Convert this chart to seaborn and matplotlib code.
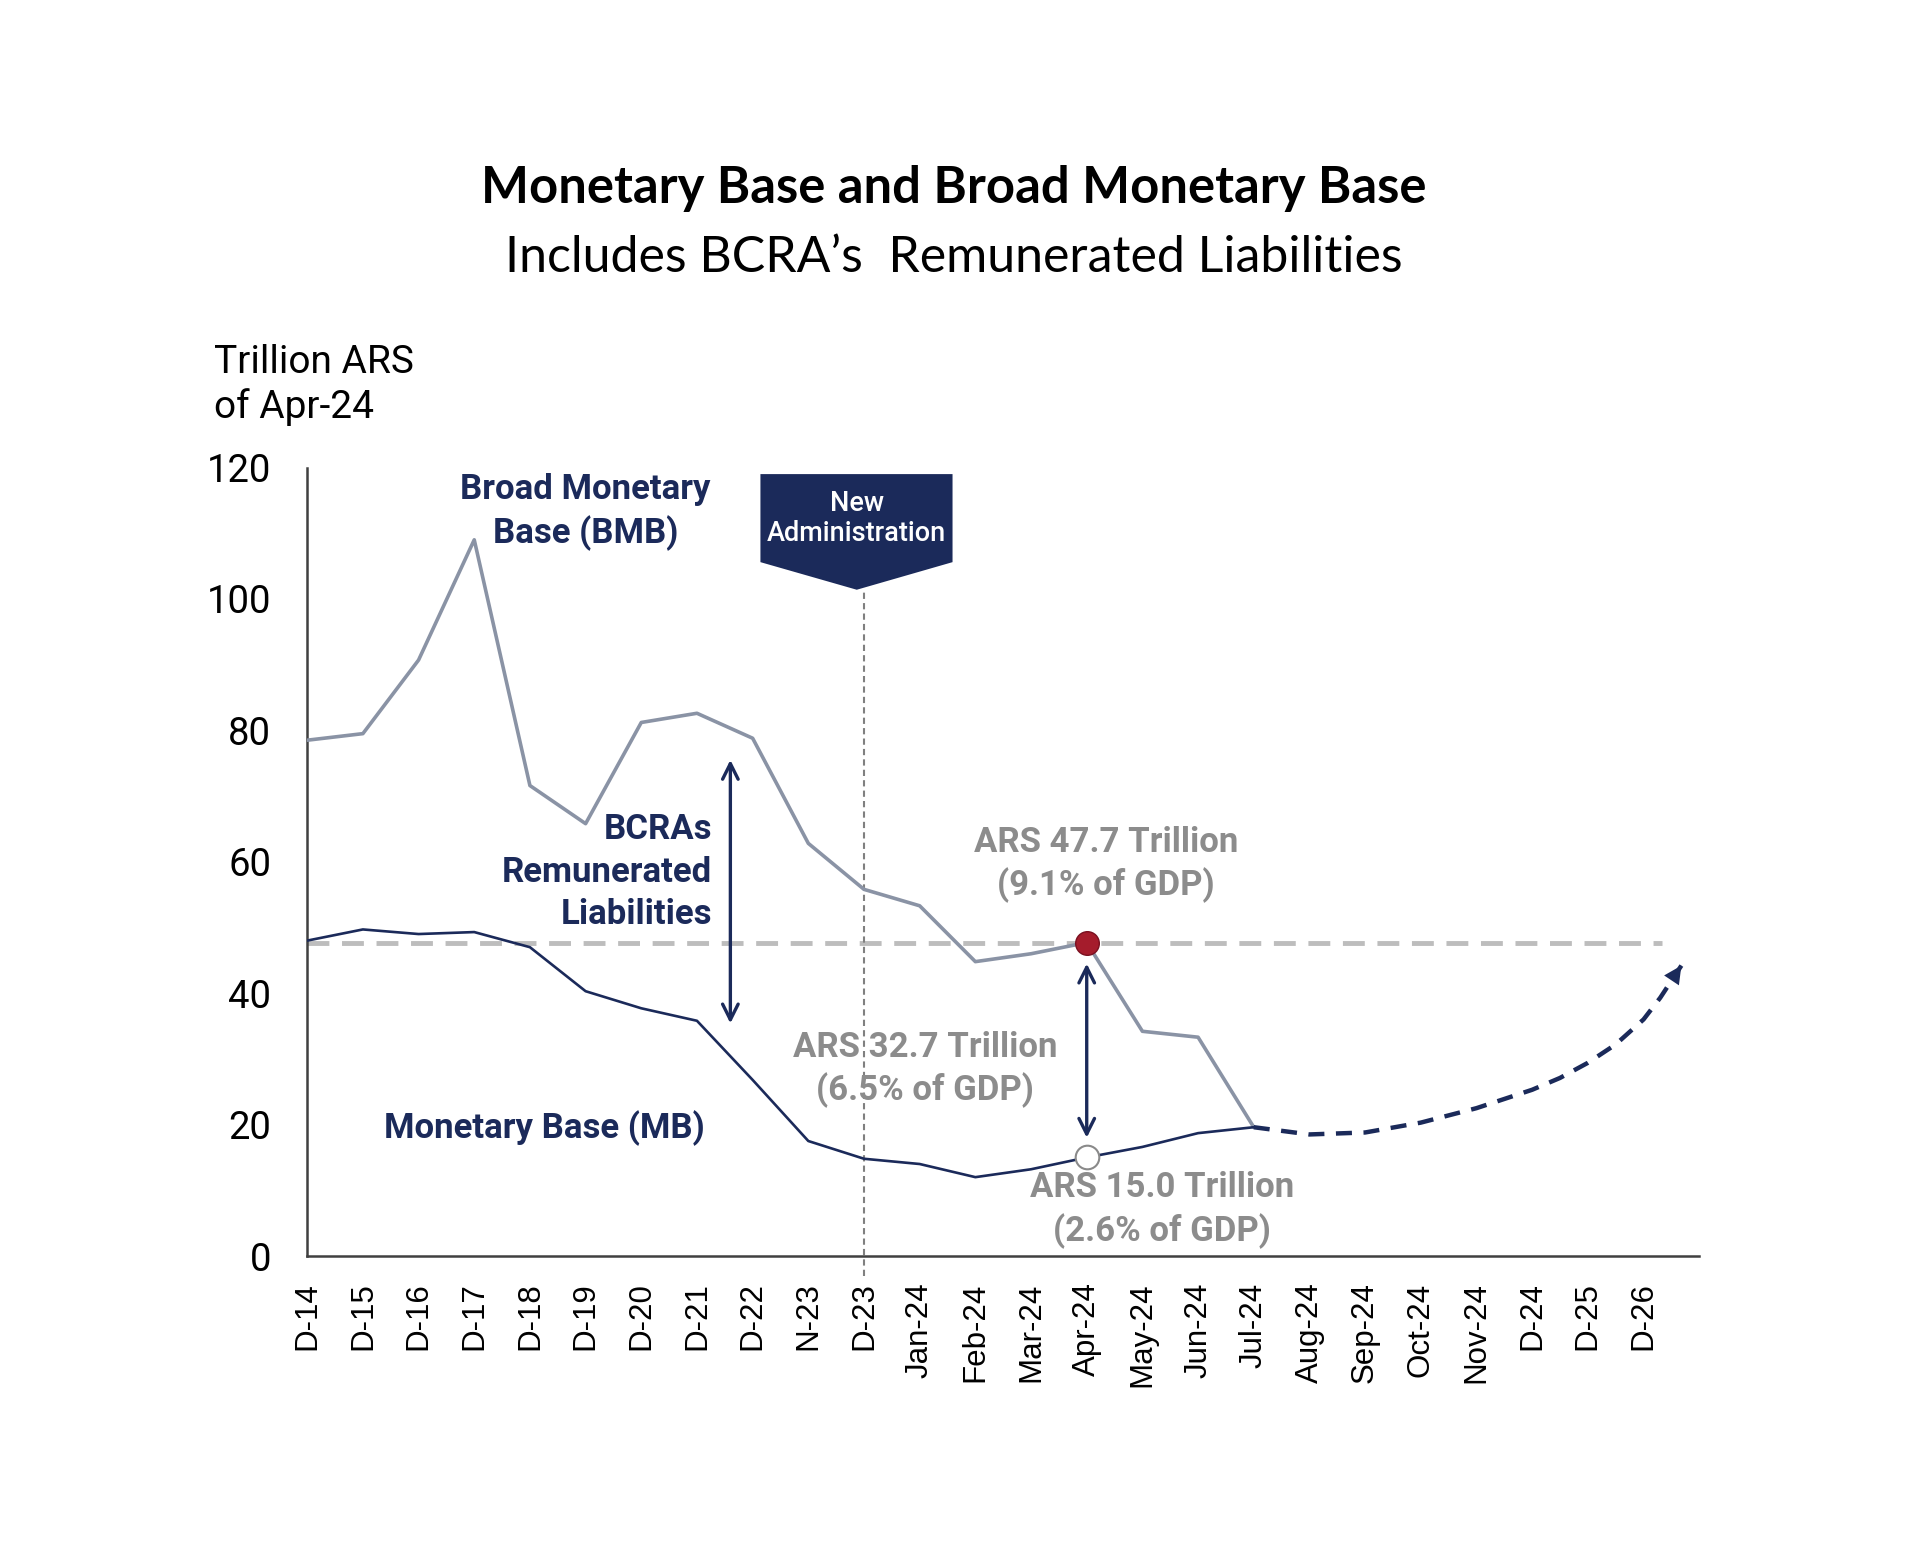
import seaborn as sns
import matplotlib.pyplot as plt
import matplotlib.patches as mpatches
import numpy as np
import pandas as pd

# Data (trillion ARS of Apr-24)
periods = ['D-14', 'D-15', 'D-16', 'D-17', 'D-18', 'D-19', 'D-20', 'D-21', 'D-22',
           'N-23', 'D-23', 'Jan-24', 'Feb-24', 'Mar-24', 'Apr-24', 'May-24', 'Jun-24',
           'Jul-24', 'Aug-24', 'Sep-24', 'Oct-24', 'Nov-24', 'D-24', 'D-25', 'D-26']
bmb = [78.5, 79.5, 90.7, 109.0, 71.6, 65.8, 81.2, 82.6, 78.8, 62.8, 55.8, 53.3,
       44.8, 46.0, 47.7, 34.2, 33.3, 19.6]
mb = [48.0, 49.7, 49.0, 49.3, 47.0, 40.3, 37.7, 35.8, 26.8, 17.5, 14.8, 14.0,
      12.0, 13.2, 15.0, 16.6, 18.7, 19.6]
# projected path of the monetary base (dashed arrow)
proj_x = [17, 18, 19, 20, 21, 22, 22.5, 23, 23.5, 24, 24.3, 24.68]
proj_y = [19.6, 18.5, 18.8, 20.3, 22.5, 25.3, 27.1, 29.4, 32.2, 36.0, 39.3, 44.2]
bmb_apr24 = 47.7
mb_apr24 = 15.0

navy = '#1b2a5a'
line_gray = '#8a93a5'
txt_gray = '#8c8c8c'

sns.set_theme(style='white')
plt.rcParams['font.family'] = ['Roboto', 'DejaVu Sans']

data = pd.DataFrame({'x': np.arange(len(bmb)), 'BMB': bmb, 'MB': mb})
proj = pd.DataFrame({'x': proj_x, 'y': proj_y})

fig = plt.figure(figsize=(19.2, 15.43), dpi=100)
ax = fig.add_axes([0.160, 0.186, 0.725, 0.511])

# reference level of April-24 BMB
ax.plot([0, 24.34], [bmb_apr24, bmb_apr24], color='#bdbdbd', lw=3.5,
        dashes=(4.5, 2.6), zorder=1)

sns.lineplot(x='x', y='BMB', data=data, color=line_gray, lw=2.6, ax=ax, zorder=3)
sns.lineplot(x='x', y='MB', data=data, color=navy, lw=1.9, ax=ax, zorder=3)
sns.lineplot(x='x', y='y', data=proj, color=navy, lw=3.2, ax=ax, zorder=3,
             dashes=False, linestyle=(0, (3.6, 2.6)), sort=False)
ax.annotate('', xy=(proj_x[-1], proj_y[-1]),
            xytext=(proj_x[-2] - 0.1, proj_y[-2] - 1.2),
            arrowprops=dict(arrowstyle='-|>', color=navy, lw=0, mutation_scale=32,
                            shrinkA=0, shrinkB=0), zorder=4)

# new administration marker
ax.plot([10, 10], [-3, 101.4], color='#808080', lw=1.5, dashes=(3, 2),
        clip_on=False, zorder=2)
box = mpatches.Polygon([(8.14, 119), (11.59, 119), (11.59, 105.6), (9.87, 101.4),
                        (8.14, 105.6)], closed=True, facecolor=navy, edgecolor='none',
                       clip_on=False, zorder=4)
ax.add_patch(box)
ax.text(9.87, 112.2, 'New\nAdministration', color='white', fontsize=19.5,
        fontweight='medium', ha='center', va='center', linespacing=1.15, zorder=5)

# arrows
ax.annotate('', xy=(7.6, 75.5), xytext=(7.6, 35.4),
            arrowprops=dict(arrowstyle='<->', color=navy, lw=2.4, mutation_scale=28,
                            shrinkA=0, shrinkB=0))
ax.annotate('', xy=(14, 44.5), xytext=(14, 18.0),
            arrowprops=dict(arrowstyle='<->', color=navy, lw=2.4, mutation_scale=28,
                            shrinkA=0, shrinkB=0))

# highlighted points
ax.plot(14, bmb_apr24, 'o', ms=17, mfc='#a51c2c', mec='#7a1020', mew=1, zorder=6)
ax.plot(14, mb_apr24, 'o', ms=17, mfc='white', mec='#8a8a8a', mew=1.5, zorder=6)

# labels
ax.text(5.0, 113.2, 'Broad Monetary\nBase (BMB)', color=navy, fontsize=25,
        fontweight='bold', ha='center', va='center', linespacing=1.32)
ax.text(7.27, 58.4, 'BCRAs\nRemunerated\nLiabilities', color=navy, fontsize=25,
        fontweight='bold', ha='right', va='center', multialignment='right',
        linespacing=1.36)
ax.text(4.26, 19.4, 'Monetary Base (MB)', color=navy, fontsize=25,
        fontweight='bold', ha='center', va='center')
ax.text(14.35, 59.6, 'ARS 47.7 Trillion\n(9.1% of GDP)', color=txt_gray, fontsize=25,
        fontweight='bold', ha='center', va='center', linespacing=1.3)
ax.text(11.1, 28.4, 'ARS 32.7 Trillion\n(6.5% of GDP)', color=txt_gray, fontsize=25,
        fontweight='bold', ha='center', va='center', linespacing=1.3)
ax.text(15.35, 7.0, 'ARS 15.0 Trillion\n(2.6% of GDP)', color=txt_gray, fontsize=25,
        fontweight='bold', ha='center', va='center', linespacing=1.3)

# axes styling
ax.set_xlim(0, 25)
ax.set_ylim(0, 120)
ax.set_xticks(range(len(periods) + 1))
ax.set_xticklabels(periods + [''], rotation=90, fontsize=22.5, family='Liberation Sans',
                   color='black')
ax.set_yticks(range(0, 121, 20))
ax.set_yticklabels([str(v) for v in range(0, 121, 20)], fontsize=27.5, color='black')
ax.tick_params(axis='x', direction='in', length=9, width=1.5, color='#404040', pad=19)
ax.tick_params(axis='y', direction='in', length=9, width=1.5, color='#404040', pad=26)
for side in ['top', 'right']:
    ax.spines[side].set_visible(False)
for side in ['left', 'bottom']:
    ax.spines[side].set_color('#404040')
    ax.spines[side].set_linewidth(1.8)
ax.set_xlabel('')
ax.set_ylabel('')

fig.text(0.1115, 0.777, 'Trillion ARS\nof Apr-24', fontsize=28, ha='left', va='top',
         linespacing=1.25, color='black')
fig.text(0.497, 0.878, 'Monetary Base and Broad Monetary Base', fontsize=36.5,
         fontweight='bold', family='Lato', ha='center', va='center', color='black')
fig.text(0.497, 0.833, 'Includes BCRA\u2019s  Remunerated Liabilities', fontsize=36,
         family='Lato', ha='center', va='center', color='black')

fig.savefig('out.png', dpi=100, facecolor='white')
